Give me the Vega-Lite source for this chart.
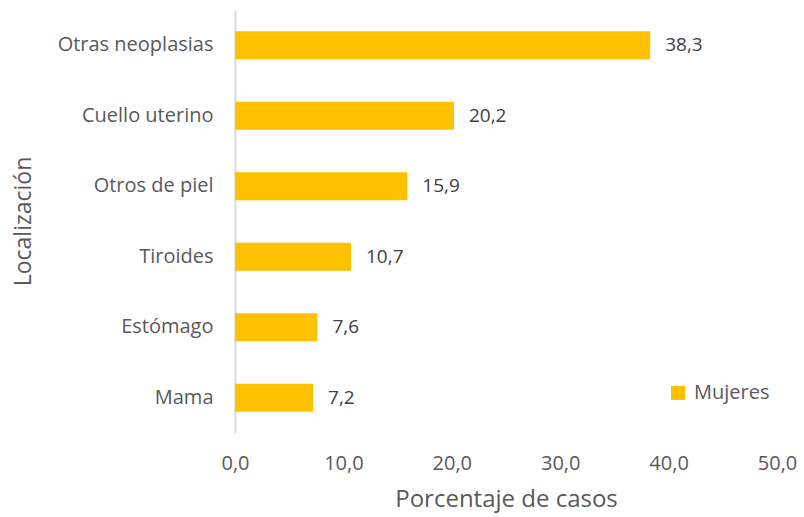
{
  "$schema": "https://vega.github.io/schema/vega-lite/v6.json",
  "width": 542,
  "height": 423,
  "autosize": {"type": "none"},
  "padding": {"left": 235, "top": 10, "right": 27, "bottom": 84},
  "data": {
    "values": [
      {"Localizacion": "Otras neoplasias", "Porcentaje": 38.3, "Sexo": "Mujeres"},
      {"Localizacion": "Cuello uterino", "Porcentaje": 20.2, "Sexo": "Mujeres"},
      {"Localizacion": "Otros de piel", "Porcentaje": 15.9, "Sexo": "Mujeres"},
      {"Localizacion": "Tiroides", "Porcentaje": 10.7, "Sexo": "Mujeres"},
      {"Localizacion": "Estómago", "Porcentaje": 7.6, "Sexo": "Mujeres"},
      {"Localizacion": "Mama", "Porcentaje": 7.2, "Sexo": "Mujeres"}
    ]
  },
  "config": {
    "view": {"stroke": null},
    "font": "Open Sans",
    "locale": {
      "number": {"decimal": ",", "thousands": ".", "grouping": [3], "currency": ["", " €"]}
    }
  },
  "encoding": {
    "y": {
      "field": "Localizacion",
      "type": "nominal",
      "sort": null,
      "scale": {"paddingInner": 0.6, "paddingOuter": 0.3},
      "axis": {
        "title": "Localización",
        "titleFontSize": 23,
        "titleFontWeight": "normal",
        "titleColor": "#595959",
        "titleX": -212,
        "titleY": 211,
        "titleAngle": 270,
        "titleAlign": "center",
        "titleBaseline": "middle",
        "labelFontSize": 20,
        "labelColor": "#595959",
        "labelPadding": 22,
        "ticks": false,
        "domainColor": "#d9d9d9",
        "domainWidth": 2,
        "grid": false
      }
    },
    "x": {
      "field": "Porcentaje",
      "type": "quantitative",
      "scale": {"domain": [0, 50], "nice": false},
      "axis": {
        "title": "Porcentaje de casos",
        "titleFontSize": 24,
        "titleFontWeight": "normal",
        "titleColor": "#595959",
        "titlePadding": 14,
        "values": [0, 10, 20, 30, 40, 50],
        "format": ".1f",
        "labelFontSize": 20,
        "labelColor": "#595959",
        "labelPadding": 20,
        "labelFlush": false,
        "ticks": false,
        "domain": false,
        "grid": false
      }
    }
  },
  "layer": [
    {
      "mark": {"type": "bar"},
      "encoding": {
        "color": {
          "field": "Sexo",
          "type": "nominal",
          "scale": {"range": ["#FFC000"]},
          "legend": {
            "title": null,
            "orient": "none",
            "legendX": 433,
            "legendY": 373,
            "symbolType": "square",
            "symbolSize": 196,
            "symbolStrokeWidth": 0,
            "labelFontSize": 20,
            "labelColor": "#595959",
            "labelOffset": 6
          }
        }
      }
    },
    {
      "mark": {"type": "text", "align": "left", "baseline": "middle", "dx": 15, "fontSize": 19, "color": "#404040"},
      "encoding": {
        "text": {"field": "Porcentaje", "type": "quantitative", "format": ".1f"}
      }
    }
  ]
}
